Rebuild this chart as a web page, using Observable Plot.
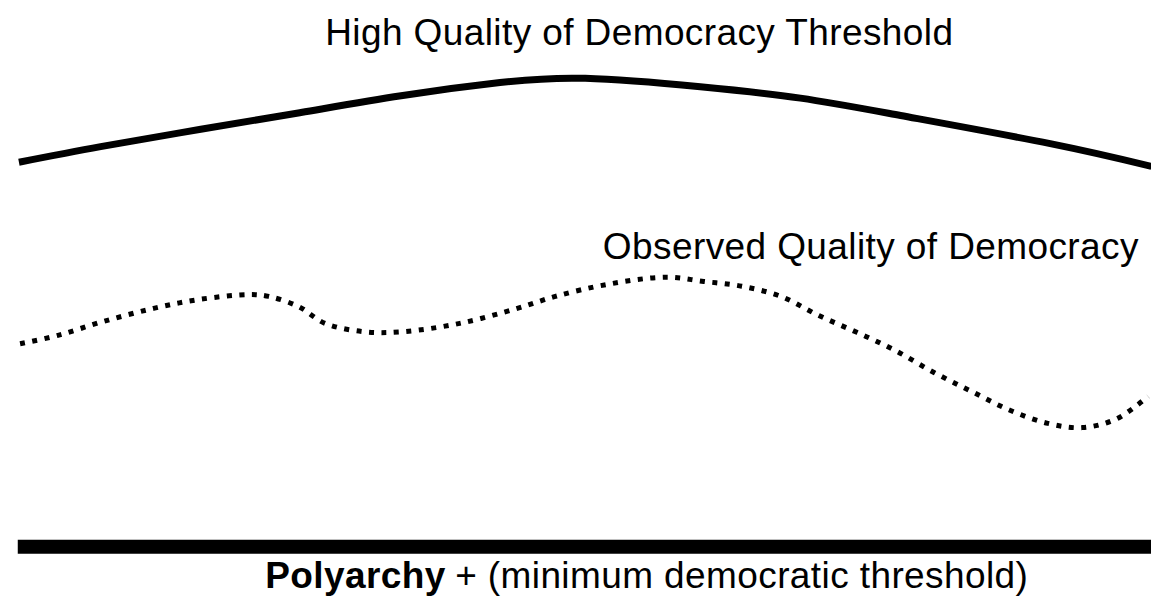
<!DOCTYPE html>
<html>
<head>
<meta charset="utf-8">
<script src="https://cdn.jsdelivr.net/npm/d3@7"></script>
<script src="https://cdn.jsdelivr.net/npm/@observablehq/plot@0.6"></script>
<style>
  html, body { margin: 0; padding: 0; background: #fff; }
  #chart svg text { letter-spacing: 0.4px; }
</style>
</head>
<body>
<div id="chart"></div>
<script>
// Position along the (schematic) horizontal axis, 0–100
const thresholdX = [1.6, 8.7, 17.4, 26.1, 34.8, 43.4, 50.8, 60.8, 69.5, 78.2, 91.2, 100];
// High quality of democracy threshold (0–100 quality scale)
const thresholdY = [73.0, 75.6, 78.5, 81.3, 84.1, 86.3, 87.0, 85.6, 83.7, 80.8, 76.1, 72.3];

const observedX = [1.7, 5.0, 8.9, 13.3, 17.3, 21.6, 23.3, 25.9, 28.2, 31.6, 34.9, 39.9, 44.9, 48.2,
                   52.7, 57.8, 61.1, 64.4, 67.8, 71.1, 74.4, 77.7, 81.1, 84.4, 87.7, 91.0, 94.0, 97.0, 99.7];
const observedY = [42.7, 44.1, 46.4, 48.6, 50.1, 50.9, 50.6, 48.9, 46.1, 44.7, 44.7, 46.1, 48.6, 50.6,
                   52.6, 53.8, 53.1, 52.3, 50.6, 47.4, 44.6, 41.6, 37.9, 34.7, 31.6, 29.4, 28.7, 30.2, 33.9];

const polyarchyX = [1.5, 100];
const polyarchyY = [8.8, 8.8];

const labelTexts = ["High Quality of Democracy Threshold", "Observed Quality of Democracy", "Polyarchy", "+ (minimum democratic threshold)"];
const labelX = [55.5, 98.9, 23.0, 39.5];
const labelY = [92.65, 56.8, 2.0, 2.0];

const font = "'Liberation Sans', Arial, Helvetica, sans-serif";

const toRows = (xs, ys) => xs.map((x, i) => ({x, y: ys[i]}));

const chart = Plot.plot({
  width: 1151,
  height: 599,
  margin: 0,
  x: {domain: [0, 100], axis: null},
  y: {domain: [0, 100], axis: null},
  style: {background: "#fff", fontFamily: font, overflow: "visible"},
  marks: [
    Plot.line(toRows(thresholdX, thresholdY), {x: "x", y: "y", curve: "natural", stroke: "#000", strokeWidth: 7, strokeLinecap: "butt"}),
    Plot.line(toRows(observedX, observedY), {x: "x", y: "y", curve: "catmull-rom", stroke: "#000", strokeWidth: 5, strokeDasharray: "5,7.5", strokeLinecap: "butt"}),
    Plot.line(toRows(polyarchyX, polyarchyY), {x: "x", y: "y", stroke: "#000", strokeWidth: 14, strokeLinecap: "butt"}),
    Plot.text([labelTexts[0]], {x: [labelX[0]], y: [labelY[0]], text: d => d, textAnchor: "middle", lineAnchor: "bottom", fontSize: 37, fill: "#000", fontFamily: font}),
    Plot.text([labelTexts[1]], {x: [labelX[1]], y: [labelY[1]], text: d => d, textAnchor: "end", lineAnchor: "bottom", fontSize: 37, fill: "#000", fontFamily: font}),
    Plot.text([labelTexts[2]], {x: [labelX[2]], y: [labelY[2]], text: d => d, textAnchor: "start", lineAnchor: "bottom", fontSize: 37, fontWeight: "bold", fill: "#000", fontFamily: font}),
    Plot.text([labelTexts[3]], {x: [labelX[3]], y: [labelY[3]], text: d => d, textAnchor: "start", lineAnchor: "bottom", fontSize: 37, fill: "#000", fontFamily: font})
  ]
});
document.getElementById("chart").appendChild(chart);
</script>
</body>
</html>
